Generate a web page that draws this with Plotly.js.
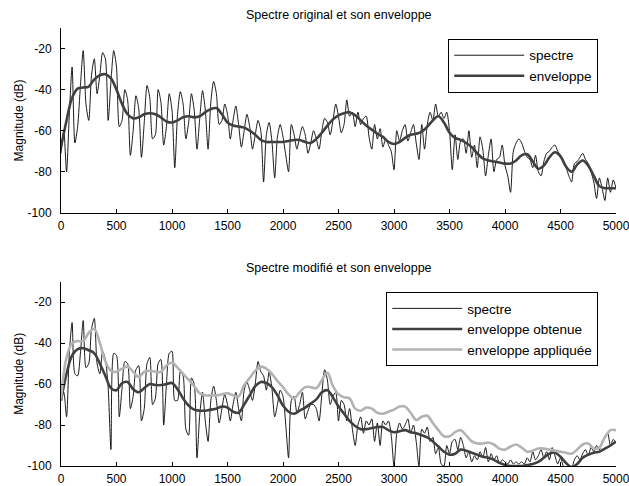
<!DOCTYPE html>
<html>
<head>
<meta charset="utf-8">
<script src="https://cdn.plot.ly/plotly-3.0.1.min.js"></script>
<style>html,body{margin:0;padding:0;background:#fff;}#chart{width:629px;height:486px;}</style>
</head>
<body>
<div id="chart"></div>
<script>
// ---- data ----
const freqStep = 25;      // spectrum sampling step (Hz), 0..5000
const envStep = 50;       // envelope sampling step (Hz), 0..5000

// Original spectrum (dB)
const specOrig = [
  -71,-60,-80,-52,-29,-66,-58,-38,-21,-47,-55,-33,-25,-42,-33,-22,-25,-55,-36,-21,
  -29,-58,-55,-40,-45,-72,-60,-43,-49,-73,-56,-38,-44,-64,-62,-40,-46,-67,-58,-42,
  -50,-78,-52,-41,-47,-64,-56,-42,-50,-69,-54,-40.5,-50,-69,-46,-36,-42,-57,-55,-47,
  -52,-64,-55,-48,-57,-68,-60,-52,-58,-69,-62,-55,-60,-85,-62,-56,-65,-83,-63,-57,
  -63,-72,-80,-57,-62,-69,-63,-58,-62,-71,-66,-60,-64,-69,-60,-54,-56,-62,-55,-47,
  -53,-61,-57,-45,-53,-51,-58,-51,-57,-54,-53,-63,-69,-57,-64,-59,-68,-64,-67,-70,
  -79,-60,-65,-60,-57,-65,-61,-57,-66,-74,-57,-69,-57,-51,-55,-47,-53,-51,-54,-51,
  -60,-79,-62,-74,-65,-64,-71,-60,-73,-67,-78,-63,-69,-82,-72,-64,-80,-74,-73,-67,
  -77,-82,-90,-70,-66,-64,-66,-70,-73,-74,-78,-72,-80,-82,-75,-71,-70,-68,-67,-70,
  -72,-75,-78,-82,-85,-76,-75,-73,-71,-74,-76,-80,-85,-93,-83,-88,-94,-83,-90,-84,
  -88
];
// Envelope of the original spectrum (dB)
const envOrig = [
  -68,-55,-44,-39.5,-39,-38.5,-35,-33,-32.5,-34.5,
  -40,-47,-52,-54,-53.5,-52,-51.5,-52,-53.5,-55.5,
  -56,-55,-53.5,-53,-53.5,-53,-51,-49.5,-49,-52,
  -56,-57.5,-58,-58.5,-60,-62,-64.5,-65.5,-65.5,-65.5,
  -65.5,-65,-64.5,-64.5,-65.5,-66,-64,-61,-57.5,-54.5,
  -52.5,-51.5,-51,-52.5,-55,-57.5,-59.5,-61.5,-63,-65.5,
  -66.5,-65.5,-63.5,-62,-61.5,-60.5,-58,-55,-53,-56,
  -61,-63.5,-64.5,-66,-68,-71,-73.5,-74.5,-75,-75.5,
  -76,-76,-74.5,-72,-71.5,-75,-78.5,-77,-73,-70.5,
  -72.5,-77.5,-80,-76.5,-74.5,-77,-82,-87,-88,-88,
  -88
];
// Modified spectrum (dB)
const specMod = [
  -68,-64,-76,-45,-30,-55,-56,-45,-29,-52,-50,-33,-28,-50,-55,-44,-48,-62,-92,-45,
  -46,-76,-62,-49,-50,-72,-66,-53,-51,-78,-72,-50,-47,-70,-67,-50,-48,-80,-60,-45,
  -44,-68,-68,-54,-56,-82,-85,-57,-60,-96,-75,-64,-78,-88,-68,-61,-68,-79,-72,-65,
  -70,-78,-70,-64,-72,-78,-63,-59,-63,-68,-60,-49,-54,-56,-63,-54,-62,-76,-70,-63,
  -66,-80,-96,-68,-66,-74,-70,-64,-77,-73,-70,-70,-72,-78,-65,-53,-58,-70,-66,-64,
  -78,-68,-70,-78,-72,-82,-90,-80,-76,-84,-78,-80,-77,-88,-79,-90,-78,-80,-78,-85,
  -100,-84,-79,-82,-80,-77,-84,-80,-88,-100,-82,-84,-81,-88,-86,-94,-91,-99,-100,-90,
  -94,-88,-87,-92,-86,-90,-96,-93,-98,-95,-97,-93,-96,-91,-98,-94,-97,-95,-99,-97,
  -98,-99,-97,-99,-98,-99,-98,-99,-96,-98,-93,-97,-95,-92,-96,-93,-97,-91,-95,-99,
  -96,-100,-101,-100,-101,-97,-95,-97,-94,-92,-95,-91,-93,-90,-92,-88,-86,-84,-90,-87,
  -89
];
// Envelope obtained from the modified spectrum (dB)
const envObtenue = [
  -68,-55,-46,-43,-42.5,-43.5,-45,-50,-56,-62,
  -63,-59.5,-59,-62.5,-64,-62,-60,-60.5,-60.5,-60,
  -59.5,-62.5,-67,-70.5,-72.5,-73,-73,-72.5,-72,-71,
  -71.5,-73.5,-74,-70,-65.5,-61,-59,-59.5,-61.5,-65.5,
  -70.5,-73.5,-74.5,-73,-71.5,-69.5,-67.5,-64,-63,-66.5,
  -71,-74.5,-78,-80.5,-82,-82,-81.5,-81,-81,-82.5,
  -83.5,-83,-82.5,-83.5,-84,-85,-86,-88,-90.5,-93,
  -94.5,-94,-92,-92.5,-93.5,-94.5,-95.5,-96,-97,-98.5,
  -99.5,-100,-100,-100,-99.5,-99,-98,-96,-94,-93.5,
  -95.5,-98.5,-100.5,-99,-96,-94.5,-93.5,-93,-91.5,-90,
  -88
];
// Envelope applied (dB)
const envAppliquee = [
  -67.5,-47,-40,-39,-39,-35,-33,-40,-49,-53.5,
  -54,-52.5,-51.5,-54,-56.5,-54,-53.5,-54,-54,-51,
  -49.5,-52,-55,-58,-61,-64.5,-65.5,-65.5,-65.5,-65,
  -64.5,-65.5,-66,-60.5,-57,-53.5,-51.5,-52.5,-55,-58.5,
  -61.5,-65,-67,-64,-61.5,-61.5,-62,-58,-54.5,-61,
  -65,-66.5,-67,-72,-73,-71.5,-72,-74,-74.5,-73.5,
  -72.5,-71,-71,-74,-77.5,-76,-75.5,-79,-82.5,-85.5,
  -85.5,-83.5,-82.5,-85,-88,-89,-89,-88.5,-89.5,-91.5,
  -92,-90.5,-89.5,-91,-93,-92.5,-91.5,-91.5,-92,-92.5,
  -93,-93.5,-94,-92,-89.5,-89,-91.5,-91,-86,-82.5,
  -82.5
];

const xTickVals = [0,500,1000,1500,2000,2500,3000,3500,4000,4500,5000];
const xTickText = ['0','500','1000','1500','2000','2500','3000','3500','4000','4500','5000'];
const yTickVals = [-100,-80,-60,-40,-20];
const yTickText = ['-100','-80','-60','-40','-20'];

const titleTop = 'Spectre original et son enveloppe';
const titleBottom = 'Spectre modifié et son enveloppe';
const yLabel = 'Magnitude (dB)';

// ---- build ----
const grid = (n, step) => Array.from({length: n}, (_, i) => i * step);

const FONT = 'Liberation Sans, Arial, Helvetica, sans-serif';
const DARK = '#404040';
const LIGHT = '#b3b3b3';

const traces = [
  {x: grid(specOrig.length, freqStep), y: specOrig, xaxis: 'x', yaxis: 'y', name: 'spectre', legend: 'legend',
   mode: 'lines', line: {color: '#000', width: 0.9, shape: 'spline', smoothing: 0.7}},
  {x: grid(envOrig.length, envStep), y: envOrig, xaxis: 'x', yaxis: 'y', name: 'enveloppe', legend: 'legend',
   mode: 'lines', line: {color: DARK, width: 2.6, shape: 'spline', smoothing: 1}},
  {x: grid(specMod.length, freqStep), y: specMod, xaxis: 'x2', yaxis: 'y2', name: 'spectre', legend: 'legend2',
   mode: 'lines', line: {color: '#000', width: 0.9, shape: 'spline', smoothing: 0.7}},
  {x: grid(envObtenue.length, envStep), y: envObtenue, xaxis: 'x2', yaxis: 'y2', name: 'enveloppe obtenue', legend: 'legend2',
   mode: 'lines', line: {color: DARK, width: 2.6, shape: 'spline', smoothing: 1}},
  {x: grid(envAppliquee.length, envStep), y: envAppliquee, xaxis: 'x2', yaxis: 'y2', name: 'enveloppe appliquée', legend: 'legend2',
   mode: 'lines', line: {color: LIGHT, width: 2.6, shape: 'spline', smoothing: 1}}
];

const xAxisBase = {
  range: [0, 5000], tickvals: xTickVals, ticktext: xTickText,
  ticks: 'inside', ticklen: 4, tickwidth: 1, tickcolor: '#000',
  showline: true, linecolor: '#000', linewidth: 1, mirror: false,
  showgrid: false, zeroline: false, ticklabelstandoff: 2,
  ticklabeloverflow: 'allow',
  tickfont: {family: FONT, size: 12, color: '#000'}
};
const yAxisBase = {
  range: [-100, -10], tickvals: yTickVals, ticktext: yTickText,
  ticks: 'inside', ticklen: 4, tickwidth: 1, tickcolor: '#000',
  showline: true, linecolor: '#000', linewidth: 1, mirror: false,
  showgrid: false, zeroline: false, ticklabelstandoff: 6,
  tickfont: {family: FONT, size: 12, color: '#000'},
  title: {text: yLabel, font: {family: FONT, size: 12, color: '#000'}, standoff: 1}
};
const legendBase = {
  xanchor: 'right', yanchor: 'top', x: 0.968,
  bgcolor: '#fff', bordercolor: '#000', borderwidth: 1,
  font: {family: FONT, size: 13.5, color: '#000'}, itemwidth: 70,
  tracegroupgap: 0
};

const layout = {
  width: 629, height: 486,
  margin: {l: 61, r: 13, t: 28, b: 20},
  paper_bgcolor: '#fff', plot_bgcolor: '#fff',
  showlegend: true,
  font: {family: FONT, color: '#000'},
  xaxis: Object.assign({}, xAxisBase, {domain: [0, 1], anchor: 'y'}),
  yaxis: Object.assign({}, yAxisBase, {domain: [0.578, 1], anchor: 'x'}),
  xaxis2: Object.assign({}, xAxisBase, {domain: [0, 1], anchor: 'y2'}),
  yaxis2: Object.assign({}, yAxisBase, {domain: [0, 0.421], anchor: 'x2'}),
  legend: Object.assign({}, legendBase, {y: 0.975}),
  legend2: Object.assign({}, legendBase, {y: 0.397}),
  annotations: [
    {text: titleTop, xref: 'paper', yref: 'paper', x: 0.5, y: 1.0297, xanchor: 'center', yanchor: 'middle',
     showarrow: false, font: {family: FONT, size: 12.5, color: '#000'}},
    {text: titleBottom, xref: 'paper', yref: 'paper', x: 0.5, y: 0.452, xanchor: 'center', yanchor: 'middle',
     showarrow: false, font: {family: FONT, size: 12.5, color: '#000'}}
  ]
};

Plotly.newPlot('chart', traces, layout, {displayModeBar: false, staticPlot: true});
</script>
</body>
</html>
